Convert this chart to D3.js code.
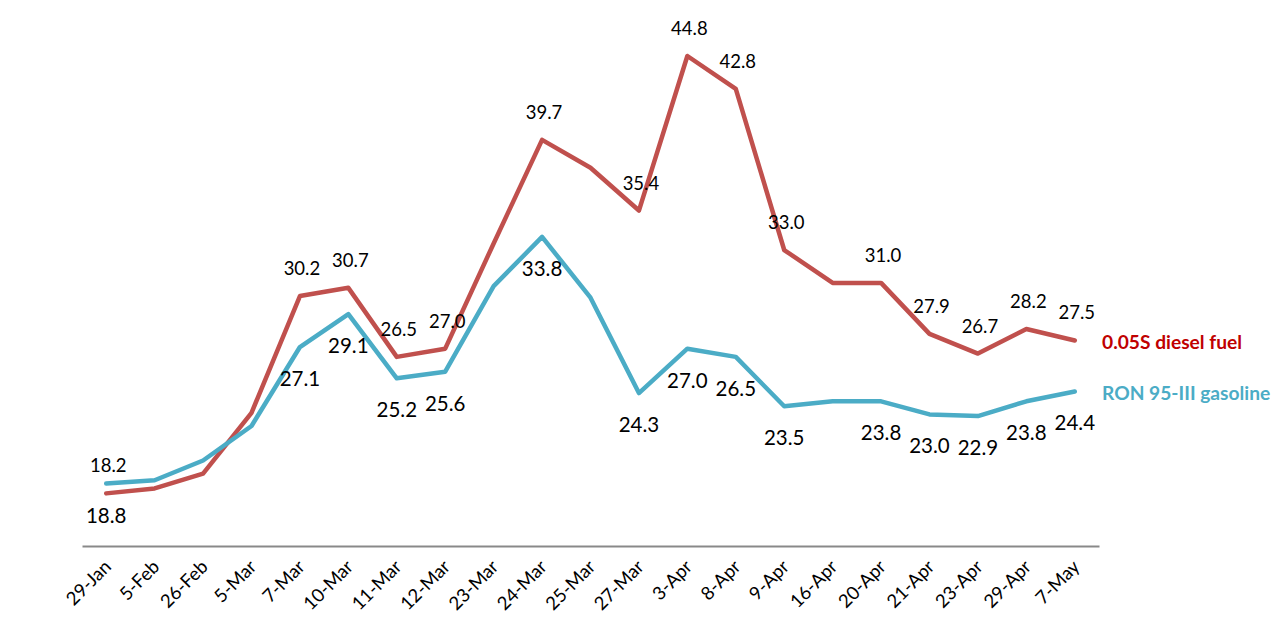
<!DOCTYPE html>
<html>
<head>
<meta charset="utf-8">
<script src="https://cdn.jsdelivr.net/npm/d3@7"></script>
<style>
  html, body { margin: 0; padding: 0; background: #ffffff; }
  svg { display: block; }
  text { font-family: Lato, "Open Sans", "Liberation Sans", sans-serif; }
</style>
</head>
<body>
<svg id="chart" width="1278" height="636"></svg>
<script>
const categories = ["29-Jan","5-Feb","26-Feb","5-Mar","7-Mar","10-Mar","11-Mar","12-Mar","23-Mar","24-Mar","25-Mar","27-Mar","3-Apr","8-Apr","9-Apr","16-Apr","20-Apr","21-Apr","23-Apr","29-Apr","7-May"];
const dieselValues = [18.2,18.5,19.4,23.1,30.2,30.7,26.5,27.0,33.4,39.7,38.0,35.4,44.8,42.8,33.0,31.0,31.0,27.9,26.7,28.2,27.5];
const gasolineValues = [18.8,19.0,20.2,22.3,27.1,29.1,25.2,25.6,30.8,33.8,30.1,24.3,27.0,26.5,23.5,23.8,23.8,23.0,22.9,23.8,24.4];
// which points carry a data label
const labeledPoints = [1,0,0,0,1,1,1,1,0,1,0,1,1,1,1,0,1,1,1,1,1];
const seriesNames = ["0.05S diesel fuel","RON 95-III gasoline"];
const yDomain = [15, 45];

const svg = d3.select("#chart");
const x = d3.scaleBand().domain(categories).range([82, 1099]).padding(0);
const y = d3.scaleLinear().domain(yDomain).range([546, 52.7]);
const cx = d => x(d) + x.bandwidth() / 2;

// x axis
const xAxis = d3.axisBottom(x).tickSize(0).tickSizeOuter(0);
const gx = svg.append("g").attr("transform", "translate(0,546)").call(xAxis);
gx.select(".domain").attr("stroke", "#898989").attr("stroke-width", 2);
gx.selectAll(".tick text")
  .attr("font-size", 18.5)
  .attr("fill", "#000")
  .attr("text-anchor", "end")
  .attr("dy", null)
  .attr("y", 0)
  .attr("transform", "translate(6,22) rotate(-45)");

const series = [
  { name: seriesNames[0], values: dieselValues, color: "#c0504d", legendColor: "#c00000", labelDy: -28, labelDx: 2, labelSize: 18.5 },
  { name: seriesNames[1], values: gasolineValues, color: "#4bacc6", legendColor: "#4bacc6", labelDy: 31, labelDx: 0, labelSize: 20.5 }
];

const line = d3.line().x((d, i) => cx(categories[i])).y(d => y(d));

series.forEach(s => {
  svg.append("path")
    .datum(s.values)
    .attr("fill", "none")
    .attr("stroke", s.color)
    .attr("stroke-width", 4.5)
    .attr("stroke-linejoin", "round")
    .attr("stroke-linecap", "round")
    .attr("d", line);
});

series.forEach(s => {
  svg.append("g").selectAll("text")
    .data(s.values.map((v, i) => ({ v, i })).filter(d => labeledPoints[d.i]))
    .join("text")
    .attr("x", d => cx(categories[d.i]) + s.labelDx)
    .attr("y", d => y(d.v) + s.labelDy)
    .attr("text-anchor", "middle")
    .attr("dominant-baseline", "central")
    .attr("font-size", s.labelSize)
    .attr("fill", "#000")
    .text(d => d.v.toFixed(1));
});

// series name labels at line ends
series.forEach(s => {
  const last = s.values[s.values.length - 1];
  svg.append("text")
    .attr("x", 1102)
    .attr("y", y(last) + 1)
    .attr("dominant-baseline", "central")
    .attr("font-size", 19.2)
    .attr("font-weight", "bold")
    .attr("fill", s.legendColor)
    .text(s.name);
});
</script>
</body>
</html>
